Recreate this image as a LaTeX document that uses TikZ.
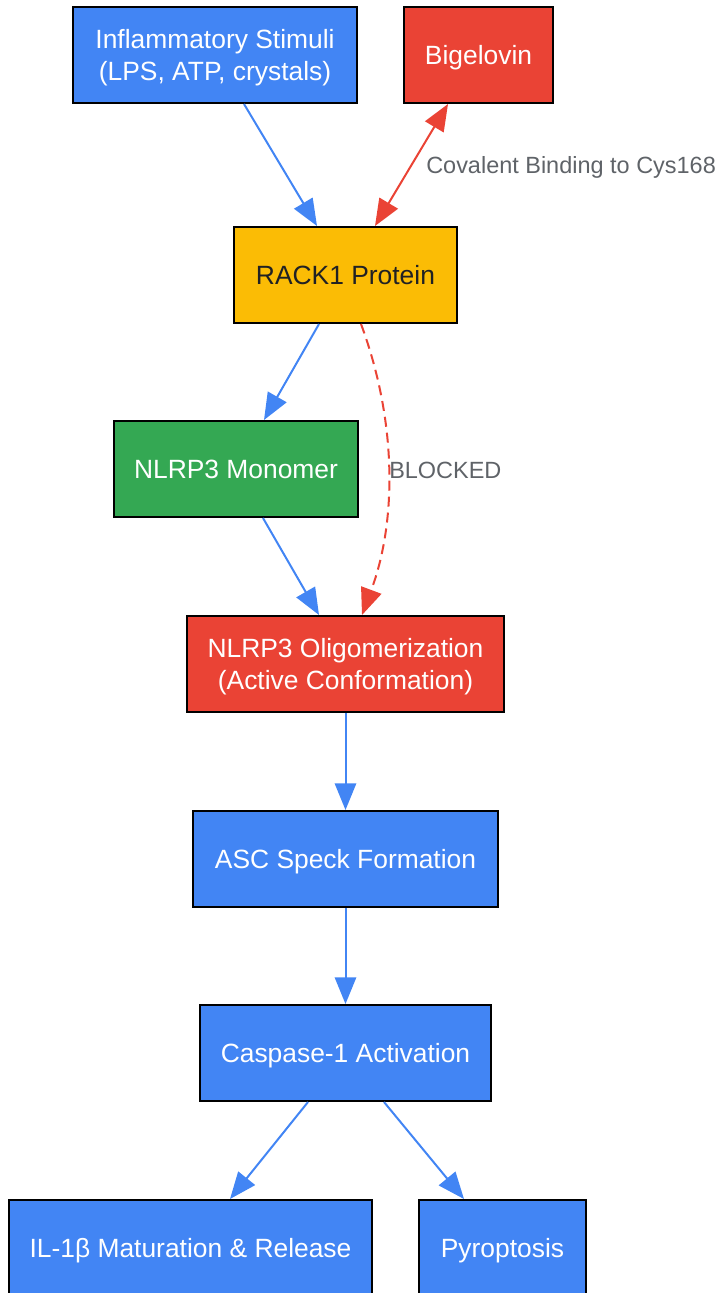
\documentclass[tikz,border=0pt]{standalone}
\usepackage{fontspec}
\setmainfont{Liberation Sans}
\usetikzlibrary{arrows.meta,calc}

\begin{document}
\begin{tikzpicture}[x=0.75pt,y=0.75pt,yscale=-1,xscale=1,
  >={Triangle[length=20pt,width=16pt]},
  box/.style={draw=black,line width=1.5pt,minimum height=72pt,inner sep=0.75pt,text depth=0pt,align=center,text=white,font=\fontsize{19.8}{24}\selectfont},
  bluebox/.style={box,fill={rgb, 255:red, 66; green, 133; blue, 244 }},
  redbox/.style={box,fill={rgb, 255:red, 234; green, 67; blue, 53 }},
  flow/.style={color={rgb, 255:red, 66; green, 133; blue, 244 },line width=1.5pt,->},
  redflow/.style={color={rgb, 255:red, 234; green, 67; blue, 53 },line width=1.5pt},
  lbl/.style={anchor=west,inner sep=0.75pt,text={rgb, 255:red, 95; green, 99; blue, 104 },font=\fontsize{17.6}{21}\selectfont}]
\path[use as bounding box] (0,0) rectangle (723,1293);

% Text Node
\node [bluebox,minimum width=213pt] (stim) at (215,55) {Inflammatory Stimuli\\(LPS, ATP, crystals)};
% Text Node
\node [redbox,minimum width=111.75pt] (bigel) at (478.5,55) {Bigelovin};
% Text Node
\node [box,minimum width=167.25pt,fill={rgb, 255:red, 251; green, 188; blue, 5 },text={rgb, 255:red, 32; green, 33; blue, 36 }] (rack) at (345.5,275) {RACK1 Protein};
% Text Node
\node [box,minimum width=183pt,fill={rgb, 255:red, 52; green, 168; blue, 83 }] (mono) at (236,469) {NLRP3 Monomer};
% Text Node
\node [redbox,minimum width=237.75pt] (olig) at (345.5,664) {NLRP3 Oligomerization\\(Active Conformation)};
% Text Node
\node [bluebox,minimum width=228.75pt] (asc) at (345.5,859) {ASC Speck Formation};
% Text Node
\node [bluebox,minimum width=218.25pt] (casp) at (345.5,1053) {Caspase-1 Activation};
% Text Node
\node [bluebox,minimum width=272.25pt] (il) at (190.5,1248) {IL-1β Maturation \& Release};
% Text Node
\node [bluebox,minimum width=125.25pt] (pyro) at (502.5,1248) {Pyroptosis};

%Straight Lines
\draw [flow] ($(stim.south)+(29,0)$) -- ($(rack.north)+(-28.5,0)$);
%Straight Lines
\draw [redflow,<->] ($(bigel.south)+(-30.5,0)$) -- ($(rack.north)+(29.5,0)$);
\node [lbl] (bind) at (425,167) {Covalent Binding to Cys168};
%Straight Lines
\draw [flow] ($(rack.south)+(-26.5,0)$) -- ($(mono.north)+(28,0)$);
%Curve Lines
\draw [redflow,->,dash pattern={on 7.5pt off 4.5pt}] ($(rack.south)+(15.5,0)$) .. controls +(36,97) and +(35,-94) .. ($(olig.north)+(16.5,0)$);
\node [lbl] (block) at (388,470) {BLOCKED};
%Straight Lines
\draw [flow] ($(mono.south)+(27,0)$) -- ($(olig.north)+(-26.5,0)$);
%Straight Lines
\draw [flow] (olig) -- (asc);
%Straight Lines
\draw [flow] (asc) -- (casp);
%Straight Lines
\draw [flow] ($(casp.south)+(-37.5,0)$) -- ($(il.north)+(39.5,0)$);
%Straight Lines
\draw [flow] ($(casp.south)+(38.5,0)$) -- ($(pyro.north)+(-38.5,0)$);

\end{tikzpicture}
\end{document}
